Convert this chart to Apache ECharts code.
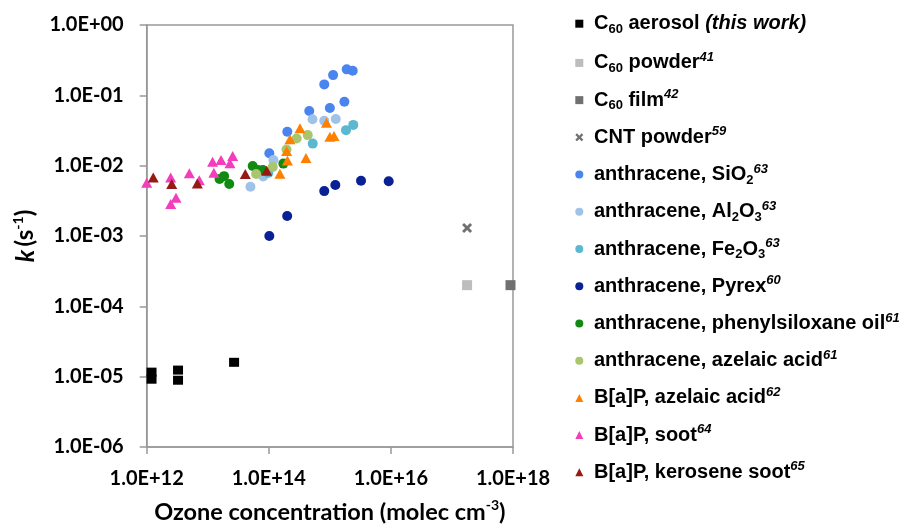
<!DOCTYPE html>
<html><head><meta charset="utf-8">
<script src="https://cdn.jsdelivr.net/npm/echarts@6/dist/echarts.min.js"></script>
<style>html,body{margin:0;padding:0;background:#fff}#c{width:919px;height:527px}</style>
</head><body><div id="c"></div>
<script>
// ---- data (ozone concentration [molec cm-3], k [s-1]) ----
const c60Aerosol = [[1.2e12,1.16e-5],[1.2e12,9.2e-6],[3.26e12,1.24e-5],[3.26e12,8.9e-6],[2.7e13,1.6e-5]];
const c60Powder = [[1.77e17,2.0e-4]];
const c60Film = [[9.1e17,2.0e-4]];
const cntPowder = [[1.77e17,1.3e-3]];
const anthSiO2 = [[1.89e15,0.234],[2.37e15,0.224],[1.13e15,0.194],[8.1e14,0.143],[1.73e15,0.081],[1.0e15,0.066],[4.6e14,0.060],[2.01e14,0.0303],[1.02e14,0.0150]];
const anthAl2O3 = [[5.2e14,0.0456],[8.1e14,0.0435],[1.25e15,0.046],[1.19e14,0.0120],[8.1e13,0.0070],[5.0e13,0.0050]];
const anthFe2O3 = [[1.84e15,0.032],[2.42e15,0.038],[5.24e14,0.0206],[9.8e13,0.0079]];
const anthPyrex = [[1.02e14,1.0e-3],[2.0e14,1.92e-3],[8.1e14,4.35e-3],[1.23e15,5.3e-3],[3.24e15,6.1e-3],[9.2e15,6.0e-3]];
const anthPhenyl = [[1.56e13,6.45e-3],[1.85e13,7.1e-3],[2.25e13,5.5e-3],[5.45e13,9.9e-3],[6.65e13,8.65e-3],[8.0e13,8.65e-3],[1.73e14,0.0107]];
const anthAzelaic = [[6.2e13,7.6e-3],[1.16e14,9.6e-3],[1.95e14,0.017],[2.86e14,0.0244],[4.34e14,0.0272]];
const bapAzelaic = [[3.24e14,0.034],[2.22e14,0.0237],[1.96e14,0.0161],[2.02e14,0.0118],[1.52e14,7.7e-3],[4.06e14,0.0129],[8.8e14,0.0408],[1.0e15,0.0258],[1.17e15,0.0264]];
const bapSoot = [[1.0e12,5.7e-3],[2.47e12,6.8e-3],[4.99e12,7.8e-3],[7.27e12,6.2e-3],[3.02e12,3.5e-3],[2.47e12,2.84e-3],[1.2e13,0.0114],[1.65e13,0.012],[2.56e13,0.0137],[2.31e13,0.0108],[1.26e13,7.9e-3]];
const bapKerosene = [[1.28e12,6.8e-3],[2.57e12,5.5e-3],[6.75e12,5.6e-3],[4.12e13,7.6e-3],[9.25e13,8.45e-3]];

const seriesNames = ['C60 aerosol (this work)','C60 powder','C60 film','CNT powder','anthracene, SiO2','anthracene, Al2O3','anthracene, Fe2O3','anthracene, Pyrex','anthracene, phenylsiloxane oil','anthracene, azelaic acid','B[a]P, azelaic acid','B[a]P, soot','B[a]P, kerosene soot'];
const legendRich = [
  '{b|C}{sub|60}{b| aerosol }{bi|(this work)}',
  '{b|C}{sub|60}{b| powder}{sup|41}',
  '{b|C}{sub|60}{b| film}{sup|42}',
  '{b|CNT powder}{sup|59}',
  '{b|anthracene, SiO}{sub|2}{sup|63}',
  '{b|anthracene, Al}{sub|2}{b|O}{sub|3}{sup|63}',
  '{b|anthracene, Fe}{sub|2}{b|O}{sub|3}{sup|63}',
  '{b|anthracene, Pyrex}{sup|60}',
  '{b|anthracene, phenylsiloxane oil}{sup|61}',
  '{b|anthracene, azelaic acid}{sup|61}',
  '{b|B[a]P, azelaic acid}{sup|62}',
  '{b|B[a]P, soot}{sup|64}',
  '{b|B[a]P, kerosene soot}{sup|65}'
];
const xTickLabels = ['1.0E+12','1.0E+14','1.0E+16','1.0E+18'];
const yTickLabels = ['1.0E-06','1.0E-05','1.0E-04','1.0E-03','1.0E-02','1.0E-01','1.0E+00'];

const dataSets = [c60Aerosol,c60Powder,c60Film,cntPowder,anthSiO2,anthAl2O3,anthFe2O3,anthPyrex,anthPhenyl,anthAzelaic,bapAzelaic,bapSoot,bapKerosene];
const colors = ['#000000','#BDBDBD','#707070','#707070','#4A84EE','#9FC3E8','#5BB8D0','#0A2196','#108A10','#A9C56E','#FF8000','#F43DBD','#951A14'];
const xPath = 'path://M2,0 L5,3 L8,0 L10,2 L7,5 L10,8 L8,10 L5,7 L2,10 L0,8 L3,5 L0,2 Z';
const symbols = ['rect','rect','rect',xPath,'circle','circle','circle','circle','circle','circle','triangle','triangle','triangle'];
const sizes = [[10,9],[10,10],[10,10],[10,10],10,10,10,10,10,10,[11,10],[11,10],[11,10]];
const legendIcons = ['rect','rect','rect',xPath,'circle','circle','circle','circle','circle','circle','triangle','triangle','triangle'];

const chart = echarts.init(document.getElementById('c'), null, {renderer:'canvas'});
const axisFont = 'Lato';
const axisColor = '#999999';
function expLabel(v){
  const e = Math.round(Math.log10(v));
  const s = e < 0 ? '-' : '+';
  const a = Math.abs(e);
  return '1.0E' + s + (a < 10 ? '0' + a : '' + a);
}
const legendRichStyles = {
  b:{fontFamily:'Liberation Sans', fontWeight:'bold', fontSize:20, color:'#000', lineHeight:24},
  bi:{fontFamily:'Liberation Sans', fontWeight:'bold', fontStyle:'italic', fontSize:20, color:'#000', lineHeight:24},
  sub:{fontFamily:'Liberation Sans', fontWeight:'bold', fontSize:13, color:'#000', verticalAlign:'bottom'},
  sup:{fontSize:13, fontWeight:'bold', fontStyle:'italic', fontFamily:'Liberation Sans', color:'#000', verticalAlign:'top'}
};
const legends = seriesNames.map((n,i)=>({
  orient:'vertical', left:575.3, top:13.7 + 37.22*i, padding:0, itemWidth:8, itemHeight:8,
  data:[{name:n, icon:legendIcons[i]}],
  formatter:function(name){ return legendRich[seriesNames.indexOf(name)]; },
  textStyle:{padding:[0,0,0,5.7], rich:legendRichStyles}
}));
const option = {
  animation:false,
  backgroundColor:'#fff',
  grid:{left:146.7, top:25, width:366.3, height:422, show:true, borderColor:axisColor, borderWidth:1.5, containLabel:false, outerBoundsMode:'none'},
  xAxis:{
    type:'log', logBase:100, min:1e12, max:1e18, interval:1,
    axisLine:{show:true, lineStyle:{color:axisColor, width:1.5}},
    axisTick:{show:true, length:7, lineStyle:{color:axisColor, width:1.5}},
    splitLine:{show:false},
    axisLabel:{margin:22, fontFamily:axisFont, fontWeight:'bold', fontSize:20, color:'#000',
      formatter:function(v){ const i = xTickLabels.indexOf(expLabel(v)); return i >= 0 ? xTickLabels[i] : expLabel(v); }},
    name:'{b|Ozone concentration (molec cm}{sup|-3}{b|)}', nameLocation:'middle', nameGap:51,
    nameTextStyle:{rich:{
      b:{fontFamily:axisFont, fontWeight:'bold', fontSize:23.5, color:'#000', lineHeight:28},
      sup:{fontFamily:axisFont, fontWeight:'bold', fontSize:14, color:'#000', verticalAlign:'top'}
    }}
  },
  yAxis:{
    type:'log', logBase:10, min:1e-6, max:1, interval:1,
    axisLine:{show:true, lineStyle:{color:axisColor, width:1.5}},
    axisTick:{show:true, length:7, lineStyle:{color:axisColor, width:1.5}},
    splitLine:{show:false},
    axisLabel:{margin:23, fontFamily:axisFont, fontWeight:'bold', fontSize:20, color:'#000',
      formatter:function(v){ const i = yTickLabels.indexOf(expLabel(v)); return i >= 0 ? yTickLabels[i] : expLabel(v); }},
    name:'{ki|k} {b|(s}{sup|-1}{b|)}', nameLocation:'middle', nameGap:107,
    nameTextStyle:{rich:{
      ki:{fontFamily:axisFont, fontWeight:'bold', fontStyle:'italic', fontSize:25, color:'#000', lineHeight:28},
      b:{fontFamily:axisFont, fontWeight:'bold', fontSize:24, color:'#000', lineHeight:28},
      sup:{fontFamily:axisFont, fontWeight:'bold', fontSize:14, color:'#000', verticalAlign:'top'}
    }}
  },
  legend: legends,
  series: dataSets.map((d,i)=>({
    name:seriesNames[i], type:'scatter', data:d, symbol:symbols[i], symbolSize:sizes[i],
    itemStyle:{color:colors[i], opacity:1}, emphasis:{disabled:true}, z:2+i
  }))
};
chart.setOption(option);
</script></body></html>
